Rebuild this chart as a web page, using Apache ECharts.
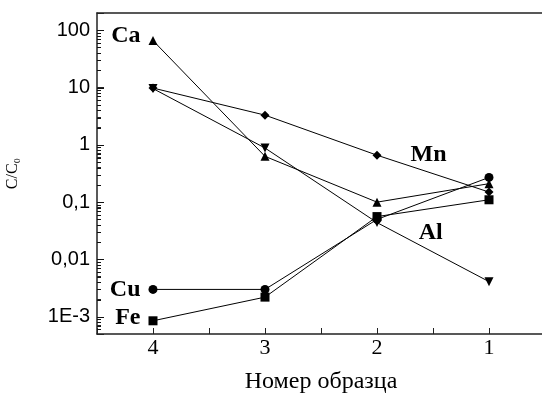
<!DOCTYPE html>
<html>
<head>
<meta charset="utf-8">
<script src="https://cdn.jsdelivr.net/npm/echarts@6/dist/echarts.min.js"></script>
<style>
  html, body { margin: 0; padding: 0; background: #fff; }
  #chart { width: 542px; height: 396px; }
</style>
</head>
<body>
<div id="chart"></div>
<script>
// номера образцов
const samples = [4, 3, 2, 1]

// C/C0 по элементам
const caValues = [66, 0.63, 0.1, 0.21]
const mnValues = [9.8, 3.3, 0.66, 0.15]
const alValues = [9.6, 0.88, 0.044, 0.0041]
const cuValues = [0.003, 0.003, 0.05, 0.27]
const feValues = [0.00085, 0.0022, 0.056, 0.11]

// деления оси Y
const majorTicks = [0.001, 0.01, 0.1, 1, 10, 100]
const majorTickLabels = ['1E-3', '0,01', '0,1', '1', '10', '100']
const decades = [0.0001, 0.001, 0.01, 0.1, 1, 10, 100]
const minorSteps = [2, 3, 4, 5, 6, 7, 8, 9]
const yMin = 0.0005
const yMax = 200
const xEdge = 4.5

const serif = '"Liberation Serif", "Times New Roman", serif'
const sans = '"Liberation Sans", Arial, sans-serif'

const chart = echarts.init(document.getElementById('chart'))

const pairs = vals => samples.map((s, i) => [s, vals[i]])

// засечки вдоль левой оси: [x, значение, длина]
const tickMarks = majorTicks.map(v => [xEdge, v, 7])
decades.forEach(d => minorSteps.forEach(k => {
  const v = d * k
  if (v > yMin && v < yMax) tickMarks.push([xEdge, v, 4])
}))

const mkSeries = (name, vals, symbol, extra) => Object.assign({
  name,
  type: 'line',
  data: pairs(vals),
  symbol,
  symbolSize: 9,
  color: '#000',
  lineStyle: { color: '#000', width: 1 },
  itemStyle: { color: '#000' },
  animation: false
}, extra || {})

const sideLabel = (text, dy) => ({
  show: true,
  position: 'left',
  distance: 8,
  offset: [0, dy || 0],
  formatter: (p) => (p.dataIndex === 0 ? text : ''),
  fontFamily: serif,
  fontWeight: 'bold',
  fontSize: 24,
  color: '#000'
})

const midLabel = (text, coord) => ({
  symbol: 'circle',
  symbolSize: 1,
  itemStyle: { color: 'rgba(0,0,0,0)' },
  label: { show: true, position: 'inside', formatter: text, fontFamily: serif, fontWeight: 'bold', fontSize: 24, color: '#000' },
  data: [{ coord }]
})

const axisLine = { show: true, lineStyle: { color: '#222', width: 1.5 } }

const option = {
  animation: false,
  grid: { left: 97, top: 13, width: 448, bottom: 62, outerBoundsMode: 'none' },
  xAxis: [
    {
      type: 'value',
      inverse: true,
      min: 0.5,
      max: 4.5,
      interval: 0.5,
      splitLine: { show: false },
      axisLine,
      axisTick: { show: true, inside: true, length: 6, lineStyle: { color: '#222' } },
      axisLabel: {
        margin: 3,
        fontFamily: serif,
        fontSize: 22,
        color: '#000',
        formatter: v => (Number.isInteger(v) && v >= 1 && v <= 4 ? String(v) : '')
      },
      name: 'Номер образца',
      nameLocation: 'middle',
      nameGap: 36,
      nameTextStyle: { fontFamily: serif, fontSize: 24, color: '#000' }
    },
    {
      // верхняя рамка
      type: 'value',
      position: 'top',
      inverse: true,
      min: 0.5,
      max: 4.5,
      interval: 0.5,
      splitLine: { show: false },
      axisLine,
      axisTick: { show: false },
      axisLabel: { show: false }
    }
  ],
  yAxis: {
    type: 'log',
    min: yMin,
    max: yMax,
    splitLine: { show: false },
    axisLine,
    axisTick: { show: true, inside: true, length: 7, lineStyle: { color: '#222' } },
    minorTick: { show: true, splitNumber: 9, length: 4, lineStyle: { color: '#222' } },
    axisLabel: {
      margin: 7,
      fontFamily: sans,
      fontSize: 20,
      color: '#000',
      formatter: v => {
        const i = majorTicks.findIndex(t => Math.abs(Math.log10(t) - Math.log10(v)) < 1e-6)
        return i >= 0 ? majorTickLabels[i] : ''
      }
    },
    name: 'C/C₀',
    nameLocation: 'middle',
    nameGap: 76,
    nameRotate: 90,
    nameTextStyle: { fontFamily: serif, fontSize: 16, color: '#000' }
  },
  series: [
    {
      type: 'custom',
      clip: false,
      data: tickMarks,
      renderItem: (params, api) => {
        const p = api.coord([api.value(0), api.value(1)])
        const len = api.value(2)
        return {
          type: 'line',
          shape: { x1: p[0], y1: Math.round(p[1]) + 0.5, x2: p[0] + len, y2: Math.round(p[1]) + 0.5 },
          style: { stroke: '#111', lineWidth: 1 }
        }
      }
    },
    mkSeries('Ca', caValues, 'triangle', { label: sideLabel('Ca', -5) }),
    mkSeries('Mn', mnValues, 'diamond', { markPoint: midLabel('Mn', [1.54, 0.67]) }),
    mkSeries('Al', alValues, 'triangle', { symbolRotate: 180, markPoint: midLabel('Al', [1.52, 0.029]) }),
    mkSeries('Cu', cuValues, 'circle', { label: sideLabel('Cu') }),
    mkSeries('Fe', feValues, 'rect', { label: sideLabel('Fe', -3) })
  ]
}

chart.setOption(option)
</script>
</body>
</html>
